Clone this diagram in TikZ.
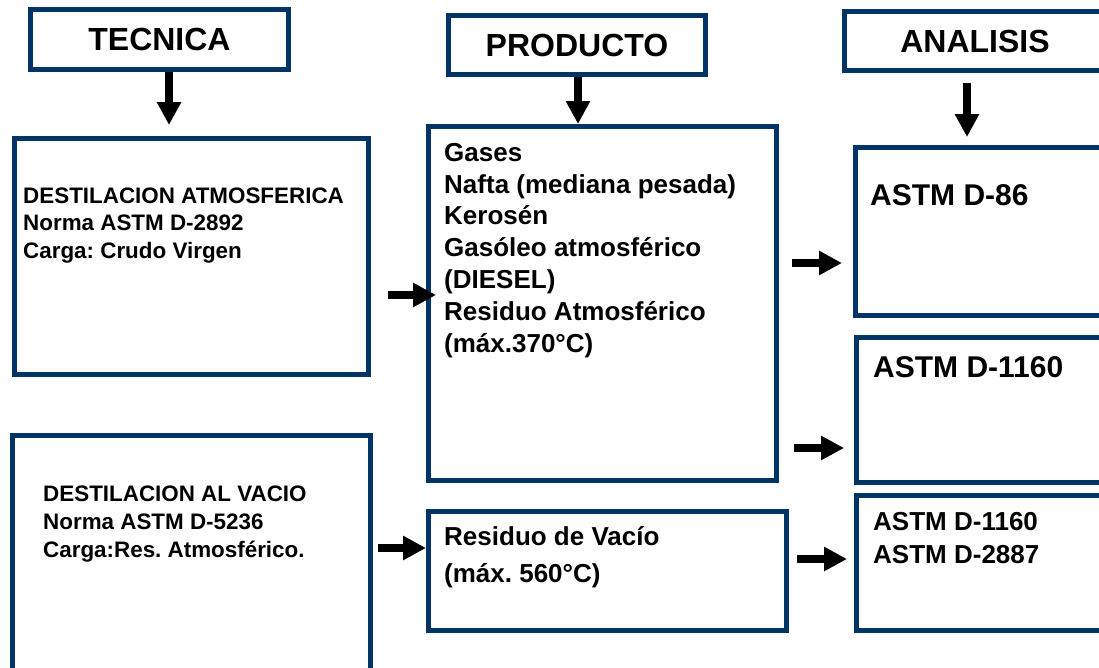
\documentclass[tikz,border=0pt]{standalone}
\usepackage{fontspec}
\setmainfont{Liberation Sans}
\usetikzlibrary{arrows.meta}
\definecolor{azulcaja}{RGB}{0,51,102}
\frenchspacing

\begin{document}
\begin{tikzpicture}[x=1pt, y=-1pt,
    caja/.style={draw=azulcaja, line width=5pt, fill=white, inner sep=0pt},
    titulo/.style={caja, font=\bfseries\fontsize{32}{38}\selectfont},
    texto/.style={anchor=base west, align=left, inner sep=0pt},
    flecha/.style={line width=8pt, -{Triangle[length=23pt,width=23pt]}}]
    \clip (0,0) rectangle (1099,667);

    % encabezados
    \node [titulo, minimum width=258pt, minimum height=60pt] (tecnica) at (159.5,39.5) {TECNICA};
    \node [titulo, minimum width=257pt, minimum height=59pt] (producto) at (577,45) {PRODUCTO};
    \node [titulo, minimum width=261pt, minimum height=59pt] (analisis) at (975,41) {ANALISIS};

    % cajas
    \node [caja, minimum width=354pt, minimum height=236pt] (da) at (191.5,256.5) {};
    \node [caja, minimum width=358pt, minimum height=254.5pt] (dv) at (191.5,562.75) {};
    \node [caja, minimum width=348pt, minimum height=354pt] (prod) at (602.5,303.5) {};
    \node [caja, minimum width=358pt, minimum height=119pt] (rv) at (607.5,571) {};
    \node [caja, minimum width=254.5pt, minimum height=168pt] (d86) at (982.75,231.5) {};
    \node [caja, minimum width=253.5pt, minimum height=145pt] (d1160) at (983.25,410) {};
    \node [caja, minimum width=253.5pt, minimum height=135pt] (d2887) at (983.25,563) {};

    % textos (anclados en la linea base de la ultima linea)
    \node [texto, font=\bfseries\fontsize{22.4}{27.5}\selectfont] (t-da) at (23,258)
        {DESTILACION ATMOSFERICA\\Norma ASTM D-2892\\Carga: Crudo Virgen};
    \node [texto, font=\bfseries\fontsize{22.4}{28}\selectfont] (t-dv) at (43,557)
        {DESTILACION AL VACIO\\Norma ASTM D-5236\\Carga:Res. Atmosférico.};
    \node [texto, font=\bfseries\fontsize{26}{31.8}\selectfont] (t-prod) at (444,352)
        {Gases\\Nafta (mediana pesada)\\Kerosén\\Gasóleo atmosférico\\(DIESEL)\\Residuo Atmosférico\\(máx.370°C)};
    \node [texto, font=\bfseries\fontsize{26}{37}\selectfont] (t-rv) at (444,582)
        {Residuo de Vacío\\(máx. 560°C)};
    \node [texto, font=\bfseries\fontsize{30}{36}\selectfont] (t-d86) at (870,205) {ASTM D-86};
    \node [texto, font=\bfseries\fontsize{30}{36}\selectfont] (t-d1160) at (873,377) {ASTM D-1160};
    \node [texto, font=\bfseries\fontsize{26}{33}\selectfont] (t-d2887) at (873,563)
        {ASTM D-1160\\ASTM D-2887};

    % flechas
    \coordinate (n1) at (0,295);
    \coordinate (n2) at (0,263);
    \coordinate (n3) at (0,448);
    \coordinate (n4) at (0,548);
    \coordinate (n5) at (0,559);
    \draw [flecha, shorten >=11pt] ([xshift=9.5pt]tecnica.south) -- ([xshift=9.5pt]tecnica.south |- da.north);
    \draw [flecha] ([xshift=1pt]producto.south) -- ([xshift=1pt]producto.south |- prod.north);
    \draw [flecha, shorten <=10pt, shorten >=8pt] ([xshift=-8pt]analisis.south) -- ([xshift=-8pt]analisis.south |- d86.north);
    \draw [flecha, shorten <=17pt, shorten >=-10pt] (da.east |- n1) -- (prod.west |- n1);
    \draw [flecha, shorten <=13pt, shorten >=11pt] (prod.east |- n2) -- (d86.west |- n2);
    \draw [flecha, shorten <=15pt, shorten >=10pt] (prod.east |- n3) -- (d1160.west |- n3);
    \draw [flecha, shorten <=5pt] (dv.east |- n4) -- (rv.west |- n4);
    \draw [flecha, shorten <=8pt, shorten >=7pt] (rv.east |- n5) -- (d2887.west |- n5);

\end{tikzpicture}
\end{document}
